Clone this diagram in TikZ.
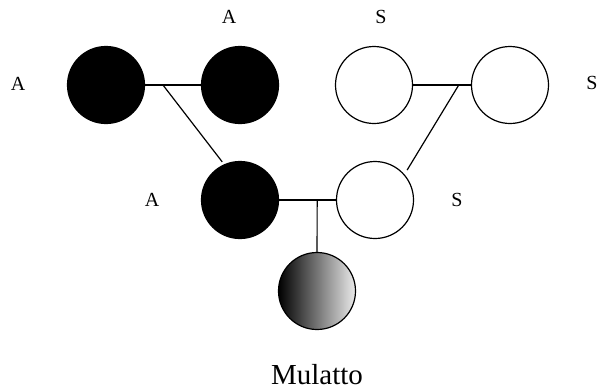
\documentclass[tikz,border=0pt]{standalone}
\usepackage{fontspec}
\setmainfont{Liberation Serif}
\usetikzlibrary{positioning,calc}
\begin{document}
\begin{tikzpicture}[x=1pt,y=-1pt,line width=1.2pt,
    blackdot/.style={circle,draw,fill=black,minimum size=77pt,inner sep=0pt},
    whitedot/.style={circle,draw,fill=white,minimum size=77pt,inner sep=0pt},
    mixdot/.style={circle,draw,left color=black,right color=white!92!black,minimum size=77pt,inner sep=0pt},
    lbl/.style={anchor=base,inner sep=0pt,font=\fontsize{20}{24}\selectfont}]
    \useasboundingbox (0,0) rectangle (604,391);
    % parents of the first generation
    \node[blackdot] (aa1) at (106,85) {};
    \node[blackdot] (aa2) at (240,85) {};
    \node[whitedot] (ss1) at (374,85) {};
    \node[whitedot] (ss2) at (510,85) {};
    % second generation
    \node[blackdot] (aa3) at (240,200) {};
    \node[whitedot] (ss3) at (375,200) {};
    \node[mixdot] (mul) at (317,291) {};
    % labels
    \node[lbl] (la1) at (18,90) {A};
    \node[lbl] (la2) at (229,23) {A};
    \node[lbl] (ls1) at (381,23) {S};
    \node[lbl] (ls2) at (592,89) {S};
    \node[lbl] (la3) at (152,206) {A};
    \node[lbl] (ls3) at (457,206) {S};
    \node[anchor=base,inner sep=0pt,font=\fontsize{29}{33}\selectfont] (name) at (317,384) {Mulatto};
    % connectors
    \draw (aa1) -- (aa2);
    \draw (ss1) -- (ss2);
    \draw (aa3) -- (ss3);
    \coordinate (j1) at ($(aa1.east)!0.32!(aa2.west)$);
    \coordinate (j2) at ($(ss1.east)!0.79!(ss2.west)$);
    \coordinate (j3) at ($(aa3.east)!0.67!(ss3.west)$);
    \draw[shorten >=3pt] (j1) -- (aa3.114);
    \draw[shorten >=5pt] (j2) -- (ss3.41);
    \draw (j3) -- (mul);
\end{tikzpicture}
\end{document}
